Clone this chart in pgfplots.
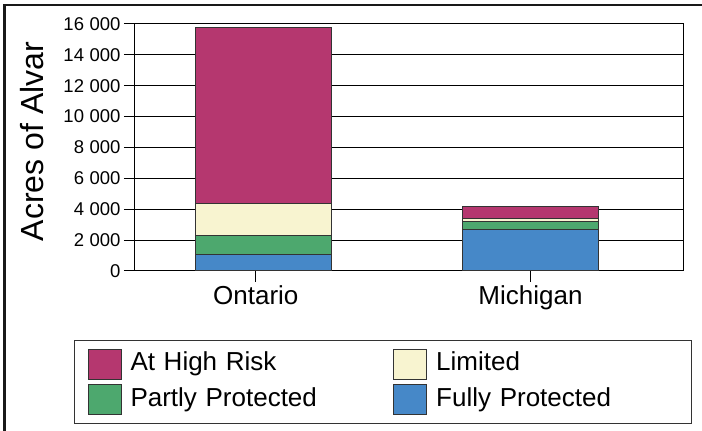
\documentclass[border=0pt]{standalone}
\usepackage{fontspec}
\setmainfont{Liberation Sans}
\usepackage{pgfplots}
\pgfplotsset{compat=1.18}

\definecolor{hiRisk}{RGB}{181,55,111}
\definecolor{limitd}{RGB}{248,244,208}
\definecolor{partP}{RGB}{77,168,110}
\definecolor{fullP}{RGB}{70,136,200}

\begin{document}
\begin{tikzpicture}
\useasboundingbox (0,0) rectangle (702pt,431pt);
\begin{axis}[
    at={(135pt,160pt)}, anchor=south west,
    scale only axis, width=548pt, height=247pt,
    ybar stacked, bar width=136pt,
    xmin=-0.4785, xmax=1.570, ymin=0, ymax=16000,
    xtick={-0.027,1}, xticklabels={Ontario,Michigan},
    ytick={0,2000,...,16000}, scaled y ticks=false,
    tick align=outside, major tick length=11pt,
    xtick pos=bottom, ytick pos=left,
    ymajorgrids, major grid style={black, line width=1pt},
    axis line style={black, line width=1pt},
    tick style={black, line width=1pt},
    /pgf/number format/assume math mode=true,
    /pgf/number format/1000 sep={\hspace{0.3em}},
    yticklabel style={font=\fontsize{18.5}{20}\selectfont},
    xticklabel style={font=\fontsize{26}{30}\selectfont},
    ylabel={Acres of Alvar},
    ylabel style={font=\fontsize{32}{36}\selectfont,
        at={(axis description cs:-0.1673,0.524)}, anchor=base},
    legend columns=2, legend cell align=left,
    legend style={
        at={(axis description cs:-0.1113,-0.2794)}, anchor=north west,
        draw=black!80, line width=1pt,
        inner xsep=13pt, inner ysep=8pt,
        font=\fontsize{26}{30}\selectfont,
        nodes={text width=238pt, inner xsep=4pt, inner ysep=3pt,
               text height=19pt, text depth=6pt},
        /tikz/column sep=5pt,
        /tikz/every even column/.append style={column sep=20.7pt},
        row sep=4.5pt,
    },
]
% stacked from the bottom: fully, partly, limited, at high risk
\addplot[fill=fullP, draw=black!80, line width=1pt, forget plot]
    coordinates {(0,1050) (1,2700)};
\addplot[fill=partP, draw=black!80, line width=1pt, forget plot]
    coordinates {(0,1250) (1,500)};
\addplot[fill=limitd, draw=black!80, line width=1pt, forget plot]
    coordinates {(0,2100) (1,230)};
\addplot[fill=hiRisk, draw=black!80, line width=1pt, forget plot]
    coordinates {(0,11400) (1,770)};

\addlegendimage{legend image code/.code={\draw[fill=hiRisk, draw=black!80, line width=1pt] (0pt,-15pt) rectangle (33pt,15pt);}}
\addlegendentry{At High Risk}
\addlegendimage{legend image code/.code={\draw[fill=limitd, draw=black!80, line width=1pt] (0pt,-15pt) rectangle (33pt,15pt);}}
\addlegendentry{Limited}
\addlegendimage{legend image code/.code={\draw[fill=partP, draw=black!80, line width=1pt] (0pt,-15pt) rectangle (33pt,15pt);}}
\addlegendentry{Partly Protected}
\addlegendimage{legend image code/.code={\draw[fill=fullP, draw=black!80, line width=1pt] (0pt,-15pt) rectangle (33pt,15pt);}}
\addlegendentry{Fully Protected}
\end{axis}
\draw[line width=2.5pt, black!90] (4.5pt,0pt) -- (4.5pt,426pt) -- (702pt,426pt);
\end{tikzpicture}
\end{document}
